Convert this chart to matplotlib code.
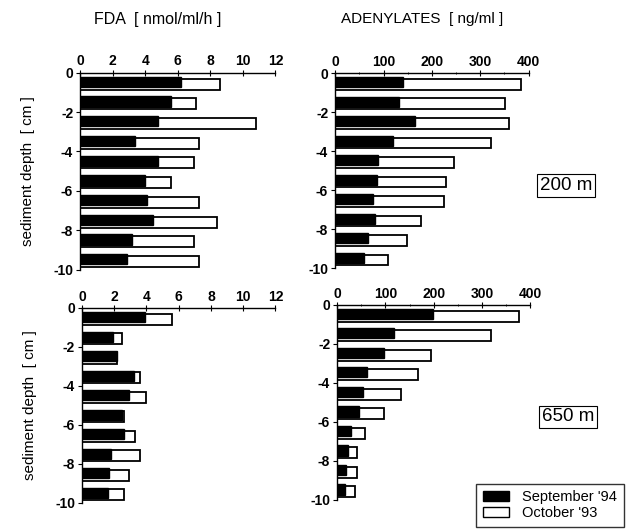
import numpy as np
import matplotlib
matplotlib.use("Agg")
import matplotlib.pyplot as plt
from matplotlib.patches import Patch

plt.rcParams['font.family'] = ['Liberation Sans', 'DejaVu Sans']

# depth slices (top of each 1 cm slice, cm)
depth_top = np.arange(0, 10)

# FDA [nmol/ml/h]
fda_200_sep94 = [6.2, 5.6, 4.8, 3.4, 4.8, 4.0, 4.1, 4.5, 3.2, 2.9]
fda_200_oct93 = [8.6, 7.1, 10.8, 7.3, 7.0, 5.6, 7.3, 8.4, 7.0, 7.3]
fda_650_sep94 = [3.9, 1.9, 2.2, 3.2, 2.9, 2.5, 2.6, 1.8, 1.7, 1.6]
fda_650_oct93 = [5.6, 2.5, 2.2, 3.6, 4.0, 2.6, 3.3, 3.6, 2.9, 2.6]

# ADENYLATES [ng/ml]
ade_200_sep94 = [140, 133, 166, 119, 88, 87, 78, 83, 67, 59]
ade_200_oct93 = [385, 352, 359, 323, 246, 230, 226, 177, 148, 110]
ade_650_sep94 = [198, 117, 98, 62, 54, 45, 29, 23, 19, 16]
ade_650_oct93 = [377, 319, 194, 168, 132, 98, 57, 41, 41, 37]

fda_ticks = [0, 2, 4, 6, 8, 10, 12]
ade_ticks = [0, 100, 200, 300, 400]
depth_ticks = [0, -2, -4, -6, -8, -10]

fig = plt.figure(figsize=(6.36, 5.3), dpi=100)

boxes = [
    [0.126, 0.491, 0.307, 0.372],
    [0.527, 0.494, 0.304, 0.368],
    [0.129, 0.051, 0.304, 0.368],
    [0.530, 0.057, 0.304, 0.368],
]
panels = [
    (fda_200_sep94, fda_200_oct93, 12, fda_ticks, 2),
    (ade_200_sep94, ade_200_oct93, 400, ade_ticks, 50),
    (fda_650_sep94, fda_650_oct93, 12, fda_ticks, 2),
    (ade_650_sep94, ade_650_oct93, 400, ade_ticks, 50),
]

axes = []
for box, (sep, octo, xmax, ticks, minor) in zip(boxes, panels):
    ax = fig.add_axes(box)
    # white (October '93) behind, black (September '94) in front
    ax.barh(-(depth_top + 0.58), octo, height=0.56, color='white',
            edgecolor='black', linewidth=1.3, zorder=2)
    ax.barh(-(depth_top + 0.47), sep, height=0.52, color='black',
            edgecolor='black', linewidth=1.0, zorder=3)
    ax.set_xlim(0, xmax)
    ax.set_ylim(-10, 0)
    ax.xaxis.tick_top()
    ax.set_xticks(ticks)
    ax.set_xticks(np.arange(0, xmax + 1, minor), minor=True)
    ax.set_yticks(depth_ticks)
    ax.set_yticklabels([str(t) for t in depth_ticks])
    ax.spines['right'].set_visible(False)
    ax.spines['bottom'].set_visible(False)
    ax.spines['top'].set_linewidth(1.0)
    ax.spines['left'].set_linewidth(1.0)
    ax.tick_params(axis='x', which='major', direction='inout', length=4,
                   pad=1, labelsize=10)
    ax.tick_params(axis='x', which='minor', direction='inout', length=2)
    ax.tick_params(axis='y', direction='out', length=3, pad=2, labelsize=10)
    for lab in ax.get_xticklabels() + ax.get_yticklabels():
        lab.set_fontweight('bold')
    axes.append(ax)

for ax in (axes[0], axes[2]):
    ax.set_ylabel('sediment depth  [ cm ]', fontsize=11, labelpad=13)

fig.text(0.248, 0.964, 'FDA  [ nmol/ml/h ]', ha='center', va='center',
         fontsize=11.5)
fig.text(0.664, 0.964, 'ADENYLATES  [ ng/ml ]', ha='center', va='center',
         fontsize=11)

for ax, label in ((axes[1], '200 m'), (axes[3], '650 m')):
    ax.text(1.195, 0.425, label, transform=ax.transAxes, ha='center',
            va='center', fontsize=13.5,
            bbox=dict(boxstyle='square,pad=0.15', facecolor='white',
                      edgecolor='black', linewidth=0.8))

handles = [Patch(facecolor='black', edgecolor='black', label="September '94"),
           Patch(facecolor='white', edgecolor='black', label="October '93")]
fig.legend(handles=handles, loc='lower right', bbox_to_anchor=(0.992, -0.008),
           fontsize=10.5, frameon=True, fancybox=False, edgecolor='black',
           handlelength=1.8, handleheight=0.7, borderpad=0.45,
           labelspacing=0.15, handletextpad=0.9)

fig.savefig('out.png', dpi=100)
